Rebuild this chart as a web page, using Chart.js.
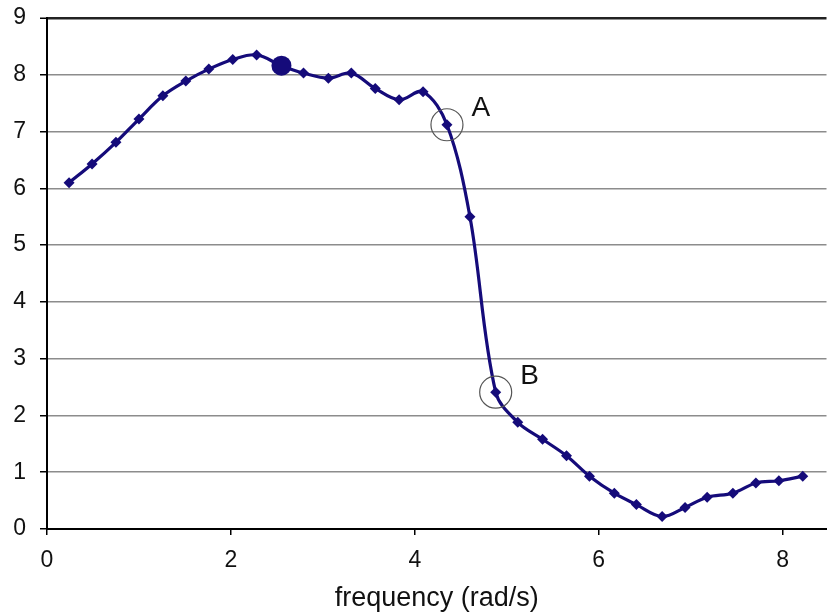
<!DOCTYPE html>
<html>
<head>
<meta charset="utf-8">
<script src="https://cdn.jsdelivr.net/npm/chart.js@4/dist/chart.umd.min.js"></script>
<style>
  html, body { margin: 0; padding: 0; background: #fff; overflow: hidden; width: 827px; height: 613px; }
  canvas { display: block; }
</style>
</head>
<body>
<canvas id="c" width="832" height="613"></canvas>
<script>
// Measured response: frequency (rad/s) vs amplitude
const freq = [0.24, 0.49, 0.75, 1.00, 1.26, 1.51, 1.76, 2.02, 2.28, 2.55,
              2.79, 3.06, 3.31, 3.57, 3.83, 4.09, 4.35, 4.60, 4.88, 5.12,
              5.39, 5.65, 5.90, 6.17, 6.41, 6.69, 6.94, 7.18, 7.46, 7.71,
              7.96, 8.22];
const amplitude = [6.10, 6.43, 6.81, 7.22, 7.63, 7.89, 8.10, 8.27, 8.35, 8.16,
                   8.03, 7.94, 8.03, 7.76, 7.56, 7.70, 7.12, 5.50, 2.41, 1.88,
                   1.58, 1.29, 0.93, 0.63, 0.43, 0.22, 0.38, 0.56, 0.63, 0.81,
                   0.85, 0.93];
const xTicks = [0, 2, 4, 6, 8];
const yTicks = [0, 1, 2, 3, 4, 5, 6, 7, 8, 9];
const highlightIndex = 9;               // point shown as a filled dot
const circledIndex = [16, 18];          // points ringed and lettered
const circledLabel = ['A', 'B'];
const xTitle = 'frequency (rad/s)';

const NAVY = '#150b7a';
const FONT = '"Liberation Sans", Arial, Helvetica, sans-serif';

const points = freq.map((f, i) => ({ x: f, y: amplitude[i] }));

const ringPlugin = {
  id: 'rings',
  afterDatasetsDraw(chart) {
    const { ctx, scales } = chart;
    ctx.save();
    circledIndex.forEach((idx, k) => {
      const px = scales.x.getPixelForValue(freq[idx]);
      const py = scales.y.getPixelForValue(amplitude[idx]);
      ctx.beginPath();
      ctx.arc(px, py, 16, 0, Math.PI * 2);
      ctx.strokeStyle = '#555';
      ctx.lineWidth = 1.2;
      ctx.stroke();
      ctx.fillStyle = '#111';
      ctx.font = '28px ' + FONT;
      ctx.textAlign = 'center';
      ctx.textBaseline = 'middle';
      ctx.fillText(circledLabel[k], px + 34, py - 16);
    });
    ctx.restore();
  }
};

// fixed axis boxes so the plot area sits at a set position
const noPad = s => { s.paddingTop = 0; s.paddingBottom = 0; s.paddingLeft = 0; s.paddingRight = 0; };

new Chart(document.getElementById('c'), {
  type: 'line',
  data: {
    datasets: [{
      data: points,
      borderColor: NAVY,
      backgroundColor: NAVY,
      borderWidth: 3.2,
      tension: 0.35,
      fill: false,
      pointStyle: points.map((p, i) => i === highlightIndex ? 'circle' : 'rectRot'),
      pointRadius: points.map((p, i) => i === highlightIndex ? 10 : 5.5),
      pointBorderWidth: 0,
      pointBackgroundColor: NAVY
    }]
  },
  options: {
    responsive: false,
    devicePixelRatio: 1,
    animation: false,
    layout: { padding: { top: 18, right: 0, left: 0, bottom: 0 } },
    plugins: { legend: { display: false }, tooltip: { enabled: false } },
    scales: {
      x: {
        type: 'linear',
        min: 0,
        max: 8.478,
        afterBuildTicks: s => { s.ticks = xTicks.map(v => ({ value: v })); },
        afterFit: s => { s.height = 84; noPad(s); },
        grid: { drawOnChartArea: false, drawTicks: true, tickLength: 6, color: '#000', lineWidth: 1.5 },
        border: { display: true, color: '#000', width: 2 },
        ticks: { color: '#111', padding: 12, font: { family: FONT, size: 23 }, maxRotation: 0 },
        title: { display: true, text: xTitle, color: '#111', font: { family: FONT, size: 27, lineHeight: 1.1 }, padding: { top: 0, bottom: 0 } }
      },
      y: {
        min: 0,
        max: 9,
        afterBuildTicks: s => { s.ticks = yTicks.map(v => ({ value: v })); },
        afterFit: s => { s.width = 47; noPad(s); },
        grid: {
          drawTicks: true,
          tickLength: 7,
          tickColor: '#000',
          tickWidth: 1.5,
          color: ctx => ctx.tick && ctx.tick.value === 9 ? '#222' : '#8c8c8c',
          lineWidth: ctx => ctx.tick && ctx.tick.value === 9 ? 2.5 : 1.5
        },
        border: { display: true, color: '#000', width: 2 },
        ticks: { color: '#111', padding: 14, font: { family: FONT, size: 23 } }
      }
    }
  },
  plugins: [ringPlugin]
});
</script>
</body>
</html>
